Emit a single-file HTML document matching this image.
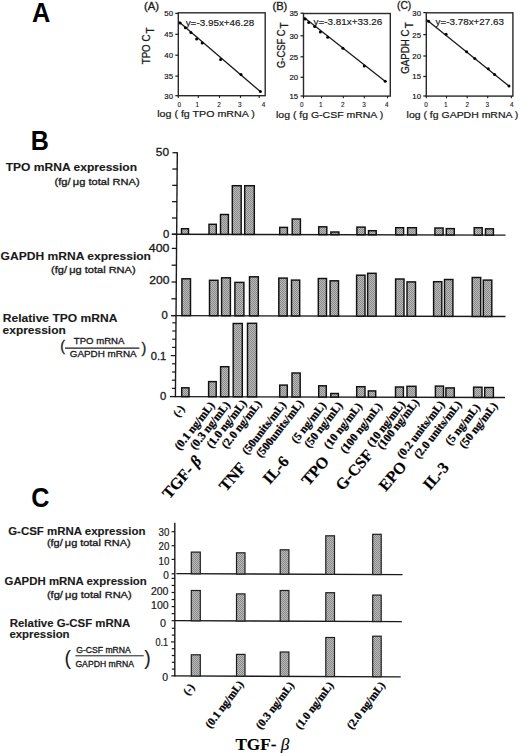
<!DOCTYPE html>
<html><head><meta charset="utf-8"><style>
html,body{margin:0;padding:0;background:#fff;width:520px;height:753px;overflow:hidden}
svg{display:block}
</style></head><body>
<svg width="520" height="753" viewBox="0 0 520 753">
<defs>
<pattern id="chk" width="2" height="2" patternUnits="userSpaceOnUse">
<rect width="2" height="2" fill="#bababa"/><rect width="1" height="1" fill="#8a8a8a"/><rect x="1" y="1" width="1" height="1" fill="#8a8a8a"/>
</pattern>
</defs>
<rect width="520" height="753" fill="#fff"/>
<text x="32" y="22.0" font-family='"Liberation Sans", sans-serif' font-size="27.6" font-weight="bold" text-anchor="start" fill="#000" textLength="18.3" lengthAdjust="spacingAndGlyphs"  stroke="#000" stroke-width="0">A</text>
<rect x="178.3" y="12.8" width="86.89999999999998" height="82.9" fill="none" stroke="#2a2a2a" stroke-width="1.4"/>
<line x1="175.3" y1="13.4" x2="178.3" y2="13.4" stroke="#1a1a1a" stroke-width="1.2"/>
<text x="173.0" y="16.3" font-family='"Liberation Sans", sans-serif' font-size="7.8" font-weight="normal" text-anchor="end" fill="#1a1a1a"  stroke="#1a1a1a" stroke-width="0.2">50</text>
<line x1="175.3" y1="34.3" x2="178.3" y2="34.3" stroke="#1a1a1a" stroke-width="1.2"/>
<text x="173.0" y="37.199999999999996" font-family='"Liberation Sans", sans-serif' font-size="7.8" font-weight="normal" text-anchor="end" fill="#1a1a1a"  stroke="#1a1a1a" stroke-width="0.2">45</text>
<line x1="175.3" y1="55.2" x2="178.3" y2="55.2" stroke="#1a1a1a" stroke-width="1.2"/>
<text x="173.0" y="58.1" font-family='"Liberation Sans", sans-serif' font-size="7.8" font-weight="normal" text-anchor="end" fill="#1a1a1a"  stroke="#1a1a1a" stroke-width="0.2">40</text>
<line x1="175.3" y1="76.1" x2="178.3" y2="76.1" stroke="#1a1a1a" stroke-width="1.2"/>
<text x="173.0" y="79.0" font-family='"Liberation Sans", sans-serif' font-size="7.8" font-weight="normal" text-anchor="end" fill="#1a1a1a"  stroke="#1a1a1a" stroke-width="0.2">35</text>
<line x1="175.3" y1="95.7" x2="178.3" y2="95.7" stroke="#1a1a1a" stroke-width="1.2"/>
<text x="173.0" y="98.60000000000001" font-family='"Liberation Sans", sans-serif' font-size="7.8" font-weight="normal" text-anchor="end" fill="#1a1a1a"  stroke="#1a1a1a" stroke-width="0.2">30</text>
<line x1="178.3" y1="95.7" x2="178.3" y2="97.9" stroke="#1a1a1a" stroke-width="1.1"/>
<line x1="198.3" y1="95.7" x2="198.3" y2="97.9" stroke="#1a1a1a" stroke-width="1.1"/>
<line x1="219.5" y1="95.7" x2="219.5" y2="97.9" stroke="#1a1a1a" stroke-width="1.1"/>
<line x1="240.5" y1="95.7" x2="240.5" y2="97.9" stroke="#1a1a1a" stroke-width="1.1"/>
<line x1="259.2" y1="95.7" x2="259.2" y2="97.9" stroke="#1a1a1a" stroke-width="1.1"/>
<text x="179.2" y="106.7" font-family='"Liberation Sans", sans-serif' font-size="6.4" font-weight="normal" text-anchor="middle" fill="#1a1a1a"  stroke="#1a1a1a" stroke-width="0.12">0</text>
<text x="197.4" y="106.7" font-family='"Liberation Sans", sans-serif' font-size="6.4" font-weight="normal" text-anchor="middle" fill="#1a1a1a"  stroke="#1a1a1a" stroke-width="0.12">1</text>
<text x="219.1" y="106.7" font-family='"Liberation Sans", sans-serif' font-size="6.4" font-weight="normal" text-anchor="middle" fill="#1a1a1a"  stroke="#1a1a1a" stroke-width="0.12">2</text>
<text x="239.9" y="106.7" font-family='"Liberation Sans", sans-serif' font-size="6.4" font-weight="normal" text-anchor="middle" fill="#1a1a1a"  stroke="#1a1a1a" stroke-width="0.12">3</text>
<text x="263.6" y="106.7" font-family='"Liberation Sans", sans-serif' font-size="6.4" font-weight="normal" text-anchor="middle" fill="#1a1a1a"  stroke="#1a1a1a" stroke-width="0.12">4</text>
<text x="144.1" y="10.1" font-family='"Liberation Sans", sans-serif' font-size="10.6" font-weight="normal" text-anchor="start" fill="#1a1a1a" textLength="15" lengthAdjust="spacingAndGlyphs"  stroke="#1a1a1a" stroke-width="0.32">(A)</text>
<text x="185.7" y="26.4" font-family='"Liberation Sans", sans-serif' font-size="9.6" font-weight="normal" text-anchor="start" fill="#1a1a1a" textLength="68.6" lengthAdjust="spacingAndGlyphs"  stroke="#1a1a1a" stroke-width="0.18">y=-3.95x+46.28</text>
<line x1="178.6" y1="21.5" x2="260.6" y2="91.8" stroke="#1a1a1a" stroke-width="1.3"/>
<circle cx="180.2" cy="23" r="1.5" fill="#000"/>
<circle cx="185.4" cy="27.8" r="1.5" fill="#000"/>
<circle cx="190.9" cy="32.5" r="1.5" fill="#000"/>
<circle cx="196.6" cy="39" r="1.5" fill="#000"/>
<circle cx="202.2" cy="42.9" r="1.5" fill="#000"/>
<circle cx="220.6" cy="59.6" r="1.5" fill="#000"/>
<circle cx="241" cy="74.6" r="1.5" fill="#000"/>
<circle cx="260.4" cy="91.6" r="1.5" fill="#000"/>
<text x="157.2" y="117.0" font-family='"Liberation Sans", sans-serif' font-size="9.8" font-weight="normal" text-anchor="start" fill="#1a1a1a" textLength="97.60000000000002" lengthAdjust="spacingAndGlyphs"  stroke="#1a1a1a" stroke-width="0.22">log ( fg TPO mRNA )</text>
<g transform="translate(150.1,64.3) rotate(-90)"><text x="0" y="0" font-family='"Liberation Sans", sans-serif' font-size="10.8" fill="#1a1a1a" stroke="#1a1a1a" stroke-width="0.3" textLength="29.699999999999996" lengthAdjust="spacingAndGlyphs">TPO C</text></g>
<g transform="translate(154.2,33.4) rotate(-90)"><text x="0" y="0" font-family='"Liberation Sans", sans-serif' font-size="10" fill="#1a1a1a" stroke="#1a1a1a" stroke-width="0.3">T</text></g>
<rect x="303.5" y="13.5" width="86.80000000000001" height="82.6" fill="none" stroke="#2a2a2a" stroke-width="1.4"/>
<line x1="300.5" y1="13.2" x2="303.5" y2="13.2" stroke="#1a1a1a" stroke-width="1.2"/>
<text x="298.2" y="16.099999999999998" font-family='"Liberation Sans", sans-serif' font-size="7.8" font-weight="normal" text-anchor="end" fill="#1a1a1a"  stroke="#1a1a1a" stroke-width="0.2">35</text>
<line x1="300.5" y1="35.8" x2="303.5" y2="35.8" stroke="#1a1a1a" stroke-width="1.2"/>
<text x="298.2" y="38.699999999999996" font-family='"Liberation Sans", sans-serif' font-size="7.8" font-weight="normal" text-anchor="end" fill="#1a1a1a"  stroke="#1a1a1a" stroke-width="0.2">30</text>
<line x1="300.5" y1="56.8" x2="303.5" y2="56.8" stroke="#1a1a1a" stroke-width="1.2"/>
<text x="298.2" y="59.699999999999996" font-family='"Liberation Sans", sans-serif' font-size="7.8" font-weight="normal" text-anchor="end" fill="#1a1a1a"  stroke="#1a1a1a" stroke-width="0.2">25</text>
<line x1="300.5" y1="77.3" x2="303.5" y2="77.3" stroke="#1a1a1a" stroke-width="1.2"/>
<text x="298.2" y="80.2" font-family='"Liberation Sans", sans-serif' font-size="7.8" font-weight="normal" text-anchor="end" fill="#1a1a1a"  stroke="#1a1a1a" stroke-width="0.2">20</text>
<line x1="300.5" y1="96" x2="303.5" y2="96" stroke="#1a1a1a" stroke-width="1.2"/>
<text x="298.2" y="98.9" font-family='"Liberation Sans", sans-serif' font-size="7.8" font-weight="normal" text-anchor="end" fill="#1a1a1a"  stroke="#1a1a1a" stroke-width="0.2">15</text>
<line x1="303.5" y1="96.1" x2="303.5" y2="98.3" stroke="#1a1a1a" stroke-width="1.1"/>
<line x1="321.5" y1="96.1" x2="321.5" y2="98.3" stroke="#1a1a1a" stroke-width="1.1"/>
<line x1="343.3" y1="96.1" x2="343.3" y2="98.3" stroke="#1a1a1a" stroke-width="1.1"/>
<line x1="364.3" y1="96.1" x2="364.3" y2="98.3" stroke="#1a1a1a" stroke-width="1.1"/>
<line x1="387.5" y1="96.1" x2="387.5" y2="98.3" stroke="#1a1a1a" stroke-width="1.1"/>
<text x="301.8" y="106.7" font-family='"Liberation Sans", sans-serif' font-size="6.4" font-weight="normal" text-anchor="middle" fill="#1a1a1a"  stroke="#1a1a1a" stroke-width="0.12">0</text>
<text x="320.7" y="106.7" font-family='"Liberation Sans", sans-serif' font-size="6.4" font-weight="normal" text-anchor="middle" fill="#1a1a1a"  stroke="#1a1a1a" stroke-width="0.12">1</text>
<text x="342.9" y="106.7" font-family='"Liberation Sans", sans-serif' font-size="6.4" font-weight="normal" text-anchor="middle" fill="#1a1a1a"  stroke="#1a1a1a" stroke-width="0.12">2</text>
<text x="364.1" y="106.7" font-family='"Liberation Sans", sans-serif' font-size="6.4" font-weight="normal" text-anchor="middle" fill="#1a1a1a"  stroke="#1a1a1a" stroke-width="0.12">3</text>
<text x="386.7" y="106.7" font-family='"Liberation Sans", sans-serif' font-size="6.4" font-weight="normal" text-anchor="middle" fill="#1a1a1a"  stroke="#1a1a1a" stroke-width="0.12">4</text>
<text x="272.5" y="9.9" font-family='"Liberation Sans", sans-serif' font-size="10.6" font-weight="normal" text-anchor="start" fill="#1a1a1a" textLength="14.8" lengthAdjust="spacingAndGlyphs"  stroke="#1a1a1a" stroke-width="0.32">(B)</text>
<text x="313.5" y="25.2" font-family='"Liberation Sans", sans-serif' font-size="9.6" font-weight="normal" text-anchor="start" fill="#1a1a1a" textLength="68.7" lengthAdjust="spacingAndGlyphs"  stroke="#1a1a1a" stroke-width="0.18">y=-3.81x+33.26</text>
<line x1="303.8" y1="17.2" x2="385.4" y2="81.4" stroke="#1a1a1a" stroke-width="1.3"/>
<circle cx="305.2" cy="19" r="1.5" fill="#000"/>
<circle cx="308.7" cy="22.5" r="1.5" fill="#000"/>
<circle cx="314.7" cy="26.6" r="1.5" fill="#000"/>
<circle cx="320.4" cy="32" r="1.5" fill="#000"/>
<circle cx="327.7" cy="37.2" r="1.5" fill="#000"/>
<circle cx="342.9" cy="48.3" r="1.5" fill="#000"/>
<circle cx="364.3" cy="66" r="1.5" fill="#000"/>
<circle cx="385.2" cy="81.3" r="1.5" fill="#000"/>
<text x="276" y="117.6" font-family='"Liberation Sans", sans-serif' font-size="9.8" font-weight="normal" text-anchor="start" fill="#1a1a1a" textLength="107.19999999999999" lengthAdjust="spacingAndGlyphs"  stroke="#1a1a1a" stroke-width="0.22">log ( fg G-CSF mRNA )</text>
<g transform="translate(284.6,67.9) rotate(-90)"><text x="0" y="0" font-family='"Liberation Sans", sans-serif' font-size="10.8" fill="#1a1a1a" stroke="#1a1a1a" stroke-width="0.3" textLength="38.400000000000006" lengthAdjust="spacingAndGlyphs">G-CSF C</text></g>
<g transform="translate(288.0,28.6) rotate(-90)"><text x="0" y="0" font-family='"Liberation Sans", sans-serif' font-size="10" fill="#1a1a1a" stroke="#1a1a1a" stroke-width="0.3">T</text></g>
<rect x="426.3" y="12.8" width="86.59999999999997" height="83.3" fill="none" stroke="#2a2a2a" stroke-width="1.4"/>
<line x1="423.3" y1="12.6" x2="426.3" y2="12.6" stroke="#1a1a1a" stroke-width="1.2"/>
<text x="421.0" y="15.5" font-family='"Liberation Sans", sans-serif' font-size="7.8" font-weight="normal" text-anchor="end" fill="#1a1a1a"  stroke="#1a1a1a" stroke-width="0.2">30</text>
<line x1="423.3" y1="34.6" x2="426.3" y2="34.6" stroke="#1a1a1a" stroke-width="1.2"/>
<text x="421.0" y="37.5" font-family='"Liberation Sans", sans-serif' font-size="7.8" font-weight="normal" text-anchor="end" fill="#1a1a1a"  stroke="#1a1a1a" stroke-width="0.2">25</text>
<line x1="423.3" y1="56" x2="426.3" y2="56" stroke="#1a1a1a" stroke-width="1.2"/>
<text x="421.0" y="58.9" font-family='"Liberation Sans", sans-serif' font-size="7.8" font-weight="normal" text-anchor="end" fill="#1a1a1a"  stroke="#1a1a1a" stroke-width="0.2">20</text>
<line x1="423.3" y1="76.5" x2="426.3" y2="76.5" stroke="#1a1a1a" stroke-width="1.2"/>
<text x="421.0" y="79.4" font-family='"Liberation Sans", sans-serif' font-size="7.8" font-weight="normal" text-anchor="end" fill="#1a1a1a"  stroke="#1a1a1a" stroke-width="0.2">15</text>
<line x1="423.3" y1="96" x2="426.3" y2="96" stroke="#1a1a1a" stroke-width="1.2"/>
<text x="421.0" y="98.9" font-family='"Liberation Sans", sans-serif' font-size="7.8" font-weight="normal" text-anchor="end" fill="#1a1a1a"  stroke="#1a1a1a" stroke-width="0.2">10</text>
<line x1="426.3" y1="96.1" x2="426.3" y2="98.3" stroke="#1a1a1a" stroke-width="1.1"/>
<line x1="446.5" y1="96.1" x2="446.5" y2="98.3" stroke="#1a1a1a" stroke-width="1.1"/>
<line x1="467.2" y1="96.1" x2="467.2" y2="98.3" stroke="#1a1a1a" stroke-width="1.1"/>
<line x1="487.7" y1="96.1" x2="487.7" y2="98.3" stroke="#1a1a1a" stroke-width="1.1"/>
<line x1="511.3" y1="96.1" x2="511.3" y2="98.3" stroke="#1a1a1a" stroke-width="1.1"/>
<text x="426" y="106.7" font-family='"Liberation Sans", sans-serif' font-size="6.4" font-weight="normal" text-anchor="middle" fill="#1a1a1a"  stroke="#1a1a1a" stroke-width="0.12">0</text>
<text x="445.9" y="106.7" font-family='"Liberation Sans", sans-serif' font-size="6.4" font-weight="normal" text-anchor="middle" fill="#1a1a1a"  stroke="#1a1a1a" stroke-width="0.12">1</text>
<text x="467.3" y="106.7" font-family='"Liberation Sans", sans-serif' font-size="6.4" font-weight="normal" text-anchor="middle" fill="#1a1a1a"  stroke="#1a1a1a" stroke-width="0.12">2</text>
<text x="487.3" y="106.7" font-family='"Liberation Sans", sans-serif' font-size="6.4" font-weight="normal" text-anchor="middle" fill="#1a1a1a"  stroke="#1a1a1a" stroke-width="0.12">3</text>
<text x="511.9" y="106.7" font-family='"Liberation Sans", sans-serif' font-size="6.4" font-weight="normal" text-anchor="middle" fill="#1a1a1a"  stroke="#1a1a1a" stroke-width="0.12">4</text>
<text x="397" y="9.3" font-family='"Liberation Sans", sans-serif' font-size="10.6" font-weight="normal" text-anchor="start" fill="#1a1a1a" textLength="14.2" lengthAdjust="spacingAndGlyphs"  stroke="#1a1a1a" stroke-width="0.32">(C)</text>
<text x="435.5" y="24.6" font-family='"Liberation Sans", sans-serif' font-size="9.6" font-weight="normal" text-anchor="start" fill="#1a1a1a" textLength="68.5" lengthAdjust="spacingAndGlyphs"  stroke="#1a1a1a" stroke-width="0.18">y=-3.78x+27.63</text>
<line x1="426.6" y1="19.8" x2="509.2" y2="86.2" stroke="#1a1a1a" stroke-width="1.3"/>
<circle cx="428.6" cy="21.3" r="1.5" fill="#000"/>
<circle cx="446.1" cy="34.3" r="1.5" fill="#000"/>
<circle cx="466.6" cy="51.7" r="1.5" fill="#000"/>
<circle cx="474.8" cy="58.4" r="1.5" fill="#000"/>
<circle cx="488.3" cy="68.7" r="1.5" fill="#000"/>
<circle cx="494.6" cy="74.4" r="1.5" fill="#000"/>
<circle cx="509" cy="86" r="1.5" fill="#000"/>
<text x="406.6" y="117.8" font-family='"Liberation Sans", sans-serif' font-size="9.8" font-weight="normal" text-anchor="start" fill="#1a1a1a" textLength="111.69999999999993" lengthAdjust="spacingAndGlyphs"  stroke="#1a1a1a" stroke-width="0.22">log ( fg GAPDH mRNA )</text>
<g transform="translate(409.1,73.8) rotate(-90)"><text x="0" y="0" font-family='"Liberation Sans", sans-serif' font-size="10.8" fill="#1a1a1a" stroke="#1a1a1a" stroke-width="0.3" textLength="44.3" lengthAdjust="spacingAndGlyphs">GAPDH C</text></g>
<g transform="translate(413.0,28.3) rotate(-90)"><text x="0" y="0" font-family='"Liberation Sans", sans-serif' font-size="10" fill="#1a1a1a" stroke="#1a1a1a" stroke-width="0.3">T</text></g>
<text x="30.7" y="149.7" font-family='"Liberation Sans", sans-serif' font-size="26.9" font-weight="bold" text-anchor="start" fill="#000" textLength="18.1" lengthAdjust="spacingAndGlyphs"  stroke="#000" stroke-width="0">B</text>
<line x1="177.3" y1="152.3" x2="175.4" y2="397.3" stroke="#1a1a1a" stroke-width="1.4"/>
<line x1="172.49689795918368" y1="152.7" x2="177.2968979591837" y2="152.7" stroke="#1a1a1a" stroke-width="1.3"/>
<line x1="172.37033469387754" y1="169.01999999999998" x2="177.17033469387755" y2="169.01999999999998" stroke="#1a1a1a" stroke-width="1.3"/>
<line x1="172.24377142857142" y1="185.33999999999997" x2="177.04377142857143" y2="185.33999999999997" stroke="#1a1a1a" stroke-width="1.3"/>
<line x1="172.1172081632653" y1="201.66" x2="176.91720816326531" y2="201.66" stroke="#1a1a1a" stroke-width="1.3"/>
<line x1="171.99064489795919" y1="217.98" x2="176.7906448979592" y2="217.98" stroke="#1a1a1a" stroke-width="1.3"/>
<line x1="171.86408163265307" y1="234.29999999999998" x2="176.66408163265308" y2="234.29999999999998" stroke="#1a1a1a" stroke-width="1.3"/>
<text x="169" y="155.6" font-family='"Liberation Sans", sans-serif' font-size="11.3" font-weight="normal" text-anchor="end" fill="#1a1a1a" textLength="13.2" lengthAdjust="spacingAndGlyphs"  stroke="#1a1a1a" stroke-width="0.32">50</text>
<text x="169.3" y="237.9" font-family='"Liberation Sans", sans-serif' font-size="11.3" font-weight="normal" text-anchor="end" fill="#1a1a1a"  stroke="#1a1a1a" stroke-width="0.32">0</text>
<line x1="171.86485714285715" y1="234.2" x2="505.5" y2="235.1198" stroke="#1a1a1a" stroke-width="1.4"/>
<rect x="181.5" y="228.7" width="7" height="5.522400000000005" fill="url(#chk)" stroke="#111" stroke-width="1.45"/>
<rect x="209.0" y="224.3" width="7.300000000000011" height="9.999819999999971" fill="url(#chk)" stroke="#111" stroke-width="1.45"/>
<rect x="220.5" y="214.5" width="7.900000000000006" height="19.832859999999982" fill="url(#chk)" stroke="#111" stroke-width="1.45"/>
<rect x="232.3" y="185.7" width="8.899999999999977" height="48.66730000000001" fill="url(#chk)" stroke="#111" stroke-width="1.45"/>
<rect x="244.7" y="185.7" width="9.600000000000023" height="48.703" fill="url(#chk)" stroke="#111" stroke-width="1.45"/>
<rect x="279.7" y="227.4" width="7.699999999999989" height="7.098339999999979" fill="url(#chk)" stroke="#111" stroke-width="1.45"/>
<rect x="292.2" y="219.0" width="8.199999999999989" height="15.534039999999976" fill="url(#chk)" stroke="#111" stroke-width="1.45"/>
<rect x="318.7" y="226.8" width="8.100000000000023" height="7.808099999999968" fill="url(#chk)" stroke="#111" stroke-width="1.45"/>
<rect x="330.9" y="232.0" width="8.0" height="2.642119999999977" fill="url(#chk)" stroke="#111" stroke-width="1.45"/>
<rect x="356.9" y="227.1" width="8.200000000000045" height="7.615199999999987" fill="url(#chk)" stroke="#111" stroke-width="1.45"/>
<rect x="368.5" y="230.7" width="7.699999999999989" height="4.046979999999991" fill="url(#chk)" stroke="#111" stroke-width="1.45"/>
<rect x="395.7" y="227.7" width="7.900000000000034" height="7.12342000000001" fill="url(#chk)" stroke="#111" stroke-width="1.45"/>
<rect x="407.6" y="227.7" width="8.799999999999955" height="7.157999999999987" fill="url(#chk)" stroke="#111" stroke-width="1.45"/>
<rect x="434.9" y="228.0" width="8.200000000000045" height="6.933599999999984" fill="url(#chk)" stroke="#111" stroke-width="1.45"/>
<rect x="446.3" y="228.6" width="8.0" height="6.36524" fill="url(#chk)" stroke="#111" stroke-width="1.45"/>
<rect x="474.2" y="227.7" width="8.0" height="7.34335999999999" fill="url(#chk)" stroke="#111" stroke-width="1.45"/>
<rect x="485.5" y="228.8" width="7.899999999999977" height="6.27485999999999" fill="url(#chk)" stroke="#111" stroke-width="1.45"/>
<line x1="171.2335918367347" y1="315.6" x2="176.0335918367347" y2="315.6" stroke="#1a1a1a" stroke-width="1.3"/>
<line x1="171.3638775510204" y1="298.8" x2="176.16387755102042" y2="298.8" stroke="#1a1a1a" stroke-width="1.3"/>
<line x1="171.49416326530613" y1="282.0" x2="176.29416326530614" y2="282.0" stroke="#1a1a1a" stroke-width="1.3"/>
<line x1="171.62444897959185" y1="265.20000000000005" x2="176.42444897959186" y2="265.20000000000005" stroke="#1a1a1a" stroke-width="1.3"/>
<line x1="171.75473469387754" y1="248.40000000000003" x2="176.55473469387755" y2="248.40000000000003" stroke="#1a1a1a" stroke-width="1.3"/>
<text x="169.4" y="251.6" font-family='"Liberation Sans", sans-serif' font-size="11.3" font-weight="normal" text-anchor="end" fill="#1a1a1a" textLength="20.6" lengthAdjust="spacingAndGlyphs"  stroke="#1a1a1a" stroke-width="0.32">400</text>
<text x="169.4" y="284.4" font-family='"Liberation Sans", sans-serif' font-size="11.3" font-weight="normal" text-anchor="end" fill="#1a1a1a" textLength="20.2" lengthAdjust="spacingAndGlyphs"  stroke="#1a1a1a" stroke-width="0.32">200</text>
<text x="167.8" y="318.6" font-family='"Liberation Sans", sans-serif' font-size="11.3" font-weight="normal" text-anchor="end" fill="#1a1a1a"  stroke="#1a1a1a" stroke-width="0.32">0</text>
<line x1="171.2335918367347" y1="315.6" x2="505.5" y2="316.51980000000003" stroke="#1a1a1a" stroke-width="1.4"/>
<rect x="181.9" y="278.8" width="8.599999999999994" height="36.82576" fill="url(#chk)" stroke="#111" stroke-width="1.45"/>
<rect x="209.5" y="280.3" width="8.5" height="35.40289999999999" fill="url(#chk)" stroke="#111" stroke-width="1.45"/>
<rect x="221.6" y="277.8" width="8.800000000000011" height="37.93720000000002" fill="url(#chk)" stroke="#111" stroke-width="1.45"/>
<rect x="234.9" y="282.4" width="9.0" height="33.374720000000025" fill="url(#chk)" stroke="#111" stroke-width="1.45"/>
<rect x="249.5" y="276.8" width="8.800000000000011" height="39.01532000000003" fill="url(#chk)" stroke="#111" stroke-width="1.45"/>
<rect x="278.8" y="278.1" width="8.399999999999977" height="37.79680000000002" fill="url(#chk)" stroke="#111" stroke-width="1.45"/>
<rect x="291.5" y="280.1" width="8.199999999999989" height="35.83208000000002" fill="url(#chk)" stroke="#111" stroke-width="1.45"/>
<rect x="318.3" y="278.5" width="8.199999999999989" height="37.50712000000004" fill="url(#chk)" stroke="#111" stroke-width="1.45"/>
<rect x="330.1" y="280.8" width="8.399999999999977" height="35.240440000000035" fill="url(#chk)" stroke="#111" stroke-width="1.45"/>
<rect x="356.6" y="275.2" width="8.399999999999977" height="40.91464000000002" fill="url(#chk)" stroke="#111" stroke-width="1.45"/>
<rect x="367.6" y="273.3" width="8.5" height="42.845579999999984" fill="url(#chk)" stroke="#111" stroke-width="1.45"/>
<rect x="395.6" y="279.0" width="8.399999999999977" height="37.223839999999996" fill="url(#chk)" stroke="#111" stroke-width="1.45"/>
<rect x="407.0" y="281.9" width="8.5" height="34.35590000000002" fill="url(#chk)" stroke="#111" stroke-width="1.45"/>
<rect x="433.6" y="281.7" width="8.199999999999989" height="34.62996000000004" fill="url(#chk)" stroke="#111" stroke-width="1.45"/>
<rect x="444.5" y="279.5" width="8.399999999999977" height="36.86076000000003" fill="url(#chk)" stroke="#111" stroke-width="1.45"/>
<rect x="472.2" y="277.5" width="8.5" height="38.93846000000002" fill="url(#chk)" stroke="#111" stroke-width="1.45"/>
<rect x="483.3" y="280.1" width="8.5" height="36.36953999999997" fill="url(#chk)" stroke="#111" stroke-width="1.45"/>
<line x1="171.8690204081633" y1="388.40000000000003" x2="175.4690204081633" y2="388.40000000000003" stroke="#1a1a1a" stroke-width="1.2"/>
<line x1="171.93261224489797" y1="380.20000000000005" x2="175.53261224489796" y2="380.20000000000005" stroke="#1a1a1a" stroke-width="1.2"/>
<line x1="171.99620408163267" y1="372.0" x2="175.59620408163266" y2="372.0" stroke="#1a1a1a" stroke-width="1.2"/>
<line x1="172.05979591836737" y1="363.8" x2="175.65979591836737" y2="363.8" stroke="#1a1a1a" stroke-width="1.2"/>
<line x1="170.72338775510204" y1="355.6" x2="175.72338775510204" y2="355.6" stroke="#1a1a1a" stroke-width="1.2"/>
<line x1="172.18697959183675" y1="347.40000000000003" x2="175.78697959183674" y2="347.40000000000003" stroke="#1a1a1a" stroke-width="1.2"/>
<line x1="172.25057142857145" y1="339.20000000000005" x2="175.85057142857144" y2="339.20000000000005" stroke="#1a1a1a" stroke-width="1.2"/>
<line x1="172.31416326530615" y1="331.0" x2="175.91416326530614" y2="331.0" stroke="#1a1a1a" stroke-width="1.2"/>
<line x1="172.37775510204082" y1="322.8" x2="175.97775510204082" y2="322.8" stroke="#1a1a1a" stroke-width="1.2"/>
<text x="166.3" y="359.9" font-family='"Liberation Sans", sans-serif' font-size="11" font-weight="normal" text-anchor="end" fill="#1a1a1a" textLength="15.5" lengthAdjust="spacingAndGlyphs"  stroke="#1a1a1a" stroke-width="0.32">0.1</text>
<text x="166.2" y="400.4" font-family='"Liberation Sans", sans-serif' font-size="11.3" font-weight="normal" text-anchor="end" fill="#1a1a1a"  stroke="#1a1a1a" stroke-width="0.32">0</text>
<line x1="169.9054285714286" y1="396.6" x2="505" y2="397.51840000000004" stroke="#1a1a1a" stroke-width="1.4"/>
<rect x="181.7" y="387.8" width="7.300000000000011" height="8.823379999999986" fill="url(#chk)" stroke="#111" stroke-width="1.45"/>
<rect x="208.6" y="381.6" width="7.599999999999994" height="15.099120000000028" fill="url(#chk)" stroke="#111" stroke-width="1.45"/>
<rect x="220.6" y="366.7" width="8.200000000000017" height="30.033560000000023" fill="url(#chk)" stroke="#111" stroke-width="1.45"/>
<rect x="233.2" y="323.5" width="9.100000000000023" height="73.27010000000001" fill="url(#chk)" stroke="#111" stroke-width="1.45"/>
<rect x="247.5" y="323.3" width="9.100000000000023" height="73.51014000000004" fill="url(#chk)" stroke="#111" stroke-width="1.45"/>
<rect x="279.7" y="385.1" width="7.600000000000023" height="11.798200000000008" fill="url(#chk)" stroke="#111" stroke-width="1.45"/>
<rect x="292.0" y="373.0" width="8.199999999999989" height="23.93348000000003" fill="url(#chk)" stroke="#111" stroke-width="1.45"/>
<rect x="318.7" y="385.8" width="7.600000000000023" height="11.207400000000007" fill="url(#chk)" stroke="#111" stroke-width="1.45"/>
<rect x="330.8" y="393.5" width="7.599999999999966" height="3.541280000000029" fill="url(#chk)" stroke="#111" stroke-width="1.45"/>
<rect x="356.7" y="386.7" width="8.300000000000011" height="10.414780000000007" fill="url(#chk)" stroke="#111" stroke-width="1.45"/>
<rect x="368.3" y="390.9" width="7.399999999999977" height="6.246000000000038" fill="url(#chk)" stroke="#111" stroke-width="1.45"/>
<rect x="395.5" y="387.0" width="7.899999999999977" height="10.222860000000026" fill="url(#chk)" stroke="#111" stroke-width="1.45"/>
<rect x="407.0" y="386.3" width="9.0" height="10.956600000000037" fill="url(#chk)" stroke="#111" stroke-width="1.45"/>
<rect x="435.4" y="386.1" width="8.100000000000023" height="11.234860000000026" fill="url(#chk)" stroke="#111" stroke-width="1.45"/>
<rect x="445.9" y="387.9" width="8.400000000000034" height="9.464680000000044" fill="url(#chk)" stroke="#111" stroke-width="1.45"/>
<rect x="473.6" y="387.2" width="8.399999999999977" height="10.242240000000038" fill="url(#chk)" stroke="#111" stroke-width="1.45"/>
<rect x="484.7" y="387.5" width="8.699999999999989" height="9.97374000000002" fill="url(#chk)" stroke="#111" stroke-width="1.45"/>
<text x="5.7" y="171.1" font-family='"Liberation Sans", sans-serif' font-size="11.5" font-weight="bold" text-anchor="start" fill="#1a1a1a" textLength="131.4" lengthAdjust="spacingAndGlyphs"  stroke="#1a1a1a" stroke-width="0.12">TPO mRNA expression</text>
<text x="54.6" y="185.2" font-family='"Liberation Sans", sans-serif' font-size="9.4" font-weight="normal" text-anchor="start" fill="#1a1a1a" textLength="85" lengthAdjust="spacingAndGlyphs"  stroke="#1a1a1a" stroke-width="0.32">(fg/ μg total RNA)</text>
<text x="0.6" y="259.9" font-family='"Liberation Sans", sans-serif' font-size="11.8" font-weight="bold" text-anchor="start" fill="#1a1a1a" textLength="150.4" lengthAdjust="spacingAndGlyphs"  stroke="#1a1a1a" stroke-width="0.12">GAPDH mRNA expression</text>
<text x="51.1" y="272.9" font-family='"Liberation Sans", sans-serif' font-size="9.4" font-weight="normal" text-anchor="start" fill="#1a1a1a" textLength="84.5" lengthAdjust="spacingAndGlyphs"  stroke="#1a1a1a" stroke-width="0.32">(fg/ μg total RNA)</text>
<text x="2.8" y="322.4" font-family='"Liberation Sans", sans-serif' font-size="11.4" font-weight="bold" text-anchor="start" fill="#1a1a1a" textLength="114.6" lengthAdjust="spacingAndGlyphs"  stroke="#1a1a1a" stroke-width="0.12">Relative TPO mRNA</text>
<text x="2.6" y="334.3" font-family='"Liberation Sans", sans-serif' font-size="11.4" font-weight="bold" text-anchor="start" fill="#1a1a1a" textLength="63.2" lengthAdjust="spacingAndGlyphs"  stroke="#1a1a1a" stroke-width="0.12">expression</text>
<text x="73.8" y="343.8" font-family='"Liberation Sans", sans-serif' font-size="9.8" font-weight="normal" text-anchor="start" fill="#1a1a1a" textLength="50.6" lengthAdjust="spacingAndGlyphs"  stroke="#1a1a1a" stroke-width="0.32">TPO mRNA</text>
<line x1="65" y1="348.1" x2="139.4" y2="348.1" stroke="#1a1a1a" stroke-width="1.1"/>
<text x="69.8" y="357.3" font-family='"Liberation Sans", sans-serif' font-size="9.8" font-weight="normal" text-anchor="start" fill="#1a1a1a" textLength="66.8" lengthAdjust="spacingAndGlyphs"  stroke="#1a1a1a" stroke-width="0.32">GAPDH mRNA</text>
<text x="60.3" y="351.3" font-family='"Liberation Sans", sans-serif' font-size="14.3" font-weight="normal" text-anchor="start" fill="#1a1a1a"  stroke="#1a1a1a" stroke-width="0.32">(</text>
<text x="141.4" y="352.6" font-family='"Liberation Sans", sans-serif' font-size="14.3" font-weight="normal" text-anchor="start" fill="#1a1a1a"  stroke="#1a1a1a" stroke-width="0.32">)</text>
<text transform="translate(181.58,413.26) rotate(-52)" font-family='"Liberation Serif", serif' font-size="11.2" font-weight="bold" text-anchor="middle" fill="#000" stroke="#000" stroke-width="0.28">(-)</text>
<text transform="translate(215.15,405.37) rotate(-52)" font-family='"Liberation Serif", serif' font-size="11.5" font-weight="bold" text-anchor="end" fill="#000" stroke="#000" stroke-width="0.28">(0.1 ng/mL)</text>
<text transform="translate(230.65,404.87) rotate(-52)" font-family='"Liberation Serif", serif' font-size="11.5" font-weight="bold" text-anchor="end" fill="#000" stroke="#000" stroke-width="0.28">(0.3 ng/mL)</text>
<text transform="translate(247.15,403.37) rotate(-52)" font-family='"Liberation Serif", serif' font-size="11.5" font-weight="bold" text-anchor="end" fill="#000" stroke="#000" stroke-width="0.28">(1.0 ng/mL)</text>
<text transform="translate(262.15,403.87) rotate(-52)" font-family='"Liberation Serif", serif' font-size="11.5" font-weight="bold" text-anchor="end" fill="#000" stroke="#000" stroke-width="0.28">(2.0 ng/mL)</text>
<text transform="translate(286.65,404.87) rotate(-52)" font-family='"Liberation Serif", serif' font-size="11.5" font-weight="bold" text-anchor="end" fill="#000" stroke="#000" stroke-width="0.28">(50units/mL)</text>
<text transform="translate(304.15,403.37) rotate(-52)" font-family='"Liberation Serif", serif' font-size="11.5" font-weight="bold" text-anchor="end" fill="#000" stroke="#000" stroke-width="0.28">(500units/mL)</text>
<text transform="translate(326.65,405.37) rotate(-52)" font-family='"Liberation Serif", serif' font-size="11.5" font-weight="bold" text-anchor="end" fill="#000" stroke="#000" stroke-width="0.28">(5 ng/mL)</text>
<text transform="translate(343.15,405.37) rotate(-52)" font-family='"Liberation Serif", serif' font-size="11.5" font-weight="bold" text-anchor="end" fill="#000" stroke="#000" stroke-width="0.28">(50 ng/mL)</text>
<text transform="translate(362.65,406.37) rotate(-52)" font-family='"Liberation Serif", serif' font-size="11.5" font-weight="bold" text-anchor="end" fill="#000" stroke="#000" stroke-width="0.28">(10 ng/mL)</text>
<text transform="translate(382.65,406.37) rotate(-52)" font-family='"Liberation Serif", serif' font-size="11.5" font-weight="bold" text-anchor="end" fill="#000" stroke="#000" stroke-width="0.28">(100 ng/mL)</text>
<text transform="translate(405.65,404.37) rotate(-52)" font-family='"Liberation Serif", serif' font-size="11.5" font-weight="bold" text-anchor="end" fill="#000" stroke="#000" stroke-width="0.28">(10 ng/mL)</text>
<text transform="translate(419.65,402.37) rotate(-52)" font-family='"Liberation Serif", serif' font-size="11.5" font-weight="bold" text-anchor="end" fill="#000" stroke="#000" stroke-width="0.28">(100 ng/mL)</text>
<text transform="translate(445.15,404.37) rotate(-52)" font-family='"Liberation Serif", serif' font-size="11.5" font-weight="bold" text-anchor="end" fill="#000" stroke="#000" stroke-width="0.28">(0.2 units/mL)</text>
<text transform="translate(462.15,404.37) rotate(-52)" font-family='"Liberation Serif", serif' font-size="11.5" font-weight="bold" text-anchor="end" fill="#000" stroke="#000" stroke-width="0.28">(2.0 units/mL)</text>
<text transform="translate(480.65,407.37) rotate(-52)" font-family='"Liberation Serif", serif' font-size="11.5" font-weight="bold" text-anchor="end" fill="#000" stroke="#000" stroke-width="0.28">(5 ng/mL)</text>
<text transform="translate(498.15,405.87) rotate(-52)" font-family='"Liberation Serif", serif' font-size="11.5" font-weight="bold" text-anchor="end" fill="#000" stroke="#000" stroke-width="0.28">(50 ng/mL)</text>
<text transform="translate(181.50,477.00) rotate(-49)" font-family='"Liberation Serif", serif' font-size="16" font-weight="bold" text-anchor="middle" dy="0.35em" fill="#000" stroke="#000" stroke-width="0.2">TGF- <tspan font-style="italic">β</tspan></text>
<text transform="translate(232.30,476.60) rotate(-49)" font-family='"Liberation Serif", serif' font-size="16" font-weight="bold" text-anchor="middle" dy="0.35em" fill="#000" stroke="#000" stroke-width="0.2">TNF</text>
<text transform="translate(275.50,469.80) rotate(-49)" font-family='"Liberation Serif", serif' font-size="16" font-weight="bold" text-anchor="middle" dy="0.35em" fill="#000" stroke="#000" stroke-width="0.2">IL-6</text>
<text transform="translate(315.00,470.50) rotate(-49)" font-family='"Liberation Serif", serif' font-size="16" font-weight="bold" text-anchor="middle" dy="0.35em" fill="#000" stroke="#000" stroke-width="0.2">TPO</text>
<text transform="translate(354.00,469.80) rotate(-49)" font-family='"Liberation Serif", serif' font-size="16" font-weight="bold" text-anchor="middle" dy="0.35em" fill="#000" stroke="#000" stroke-width="0.2">G-CSF</text>
<text transform="translate(392.30,475.80) rotate(-49)" font-family='"Liberation Serif", serif' font-size="16" font-weight="bold" text-anchor="middle" dy="0.35em" fill="#000" stroke="#000" stroke-width="0.2">EPO</text>
<text transform="translate(435.70,475.80) rotate(-49)" font-family='"Liberation Serif", serif' font-size="16" font-weight="bold" text-anchor="middle" dy="0.35em" fill="#000" stroke="#000" stroke-width="0.2">IL-3</text>
<text x="31.3" y="506.8" font-family='"Liberation Sans", sans-serif' font-size="28.4" font-weight="bold" text-anchor="start" fill="#000" textLength="18.2" lengthAdjust="spacingAndGlyphs"  stroke="#000" stroke-width="0">C</text>
<line x1="174.8" y1="522.7" x2="174.8" y2="676.5" stroke="#1a1a1a" stroke-width="1.4"/>
<line x1="171.60000000000002" y1="573.8" x2="174.8" y2="573.8" stroke="#1a1a1a" stroke-width="1.2"/>
<line x1="171.60000000000002" y1="559.4" x2="174.8" y2="559.4" stroke="#1a1a1a" stroke-width="1.2"/>
<line x1="171.60000000000002" y1="545.7" x2="174.8" y2="545.7" stroke="#1a1a1a" stroke-width="1.2"/>
<line x1="171.60000000000002" y1="531.7" x2="174.8" y2="531.7" stroke="#1a1a1a" stroke-width="1.2"/>
<text x="168.9" y="578.9" font-family='"Liberation Sans", sans-serif' font-size="10" font-weight="normal" text-anchor="end" fill="#1a1a1a"  stroke="#1a1a1a" stroke-width="0.2">0</text>
<text x="169.4" y="564.7" font-family='"Liberation Sans", sans-serif' font-size="10" font-weight="normal" text-anchor="end" fill="#1a1a1a" textLength="10.8" lengthAdjust="spacingAndGlyphs"  stroke="#1a1a1a" stroke-width="0.2">10</text>
<text x="169.4" y="550.3" font-family='"Liberation Sans", sans-serif' font-size="10" font-weight="normal" text-anchor="end" fill="#1a1a1a" textLength="10.8" lengthAdjust="spacingAndGlyphs"  stroke="#1a1a1a" stroke-width="0.2">20</text>
<text x="169.4" y="535.8" font-family='"Liberation Sans", sans-serif' font-size="10" font-weight="normal" text-anchor="end" fill="#1a1a1a" textLength="10.8" lengthAdjust="spacingAndGlyphs"  stroke="#1a1a1a" stroke-width="0.2">30</text>
<line x1="176.4" y1="573.7" x2="402.5" y2="574.61" stroke="#1a1a1a" stroke-width="1.3"/>
<line x1="171.60000000000002" y1="613.6500000000001" x2="174.8" y2="613.6500000000001" stroke="#1a1a1a" stroke-width="1.2"/>
<line x1="171.60000000000002" y1="606.6" x2="174.8" y2="606.6" stroke="#1a1a1a" stroke-width="1.2"/>
<line x1="171.60000000000002" y1="599.5500000000001" x2="174.8" y2="599.5500000000001" stroke="#1a1a1a" stroke-width="1.2"/>
<line x1="171.60000000000002" y1="592.5" x2="174.8" y2="592.5" stroke="#1a1a1a" stroke-width="1.2"/>
<line x1="171.60000000000002" y1="585.45" x2="174.8" y2="585.45" stroke="#1a1a1a" stroke-width="1.2"/>
<line x1="171.60000000000002" y1="578.4000000000001" x2="174.8" y2="578.4000000000001" stroke="#1a1a1a" stroke-width="1.2"/>
<line x1="171.60000000000002" y1="620.7" x2="174.8" y2="620.7" stroke="#1a1a1a" stroke-width="1.2"/>
<text x="168.5" y="595.2" font-family='"Liberation Sans", sans-serif' font-size="10" font-weight="normal" text-anchor="end" fill="#1a1a1a" textLength="17.6" lengthAdjust="spacingAndGlyphs"  stroke="#1a1a1a" stroke-width="0.2">200</text>
<text x="168.5" y="609.4" font-family='"Liberation Sans", sans-serif' font-size="10" font-weight="normal" text-anchor="end" fill="#1a1a1a" textLength="17.4" lengthAdjust="spacingAndGlyphs"  stroke="#1a1a1a" stroke-width="0.2">100</text>
<text x="165.9" y="626.5" font-family='"Liberation Sans", sans-serif' font-size="10.8" font-weight="normal" text-anchor="end" fill="#1a1a1a"  stroke="#1a1a1a" stroke-width="0.2">0</text>
<line x1="174.8" y1="620.7" x2="401.8" y2="621.6072" stroke="#1a1a1a" stroke-width="1.3"/>
<line x1="171.8" y1="669.1" x2="174.8" y2="669.1" stroke="#1a1a1a" stroke-width="1.2"/>
<line x1="171.8" y1="662.3" x2="174.8" y2="662.3" stroke="#1a1a1a" stroke-width="1.2"/>
<line x1="171.8" y1="655.5" x2="174.8" y2="655.5" stroke="#1a1a1a" stroke-width="1.2"/>
<line x1="171.8" y1="648.6999999999999" x2="174.8" y2="648.6999999999999" stroke="#1a1a1a" stroke-width="1.2"/>
<line x1="171.0" y1="641.9" x2="174.8" y2="641.9" stroke="#1a1a1a" stroke-width="1.2"/>
<line x1="171.8" y1="635.1" x2="174.8" y2="635.1" stroke="#1a1a1a" stroke-width="1.2"/>
<line x1="171.8" y1="628.3" x2="174.8" y2="628.3" stroke="#1a1a1a" stroke-width="1.2"/>
<line x1="171.3" y1="675.9" x2="400.7" y2="676.8027999999999" stroke="#1a1a1a" stroke-width="1.3"/>
<text x="168.2" y="645.6" font-family='"Liberation Sans", sans-serif' font-size="10.5" font-weight="normal" text-anchor="end" fill="#1a1a1a" textLength="12.8" lengthAdjust="spacingAndGlyphs"  stroke="#1a1a1a" stroke-width="0.2">0.1</text>
<text x="168" y="681.1" font-family='"Liberation Sans", sans-serif' font-size="10.5" font-weight="normal" text-anchor="end" fill="#1a1a1a"  stroke="#1a1a1a" stroke-width="0.2">0</text>
<rect x="191.3" y="552.1" width="9.0" height="21.683200000000056" fill="url(#chk)" stroke="#1e1e1e" stroke-width="1.2"/>
<rect x="236.5" y="552.8" width="8.5" height="21.163000000000125" fill="url(#chk)" stroke="#1e1e1e" stroke-width="1.2"/>
<rect x="280.2" y="549.8" width="8.699999999999989" height="24.338200000000143" fill="url(#chk)" stroke="#1e1e1e" stroke-width="1.2"/>
<rect x="325.8" y="535.8" width="8.699999999999989" height="38.52060000000006" fill="url(#chk)" stroke="#1e1e1e" stroke-width="1.2"/>
<rect x="372.7" y="534.3" width="8.5" height="40.207800000000134" fill="url(#chk)" stroke="#1e1e1e" stroke-width="1.2"/>
<rect x="191.3" y="590.5" width="9.0" height="30.28320000000008" fill="url(#chk)" stroke="#1e1e1e" stroke-width="1.2"/>
<rect x="236.5" y="593.9" width="8.5" height="27.063000000000102" fill="url(#chk)" stroke="#1e1e1e" stroke-width="1.2"/>
<rect x="280.2" y="590.5" width="8.699999999999989" height="30.638200000000097" fill="url(#chk)" stroke="#1e1e1e" stroke-width="1.2"/>
<rect x="325.8" y="592.7" width="8.699999999999989" height="28.620599999999968" fill="url(#chk)" stroke="#1e1e1e" stroke-width="1.2"/>
<rect x="372.7" y="595.1" width="8.5" height="26.407800000000066" fill="url(#chk)" stroke="#1e1e1e" stroke-width="1.2"/>
<rect x="191.3" y="654.8" width="9.0" height="21.183200000000056" fill="url(#chk)" stroke="#1e1e1e" stroke-width="1.2"/>
<rect x="236.5" y="654.4" width="8.5" height="21.763000000000034" fill="url(#chk)" stroke="#1e1e1e" stroke-width="1.2"/>
<rect x="280.2" y="652.0" width="8.699999999999989" height="24.33820000000003" fill="url(#chk)" stroke="#1e1e1e" stroke-width="1.2"/>
<rect x="325.8" y="637.5" width="8.699999999999989" height="39.020599999999945" fill="url(#chk)" stroke="#1e1e1e" stroke-width="1.2"/>
<rect x="372.7" y="636.2" width="8.5" height="40.507799999999975" fill="url(#chk)" stroke="#1e1e1e" stroke-width="1.2"/>
<text x="8.2" y="534.8" font-family='"Liberation Sans", sans-serif' font-size="10.9" font-weight="bold" text-anchor="start" fill="#1a1a1a" textLength="137.2" lengthAdjust="spacingAndGlyphs"  stroke="#1a1a1a" stroke-width="0.12">G-CSF mRNA expression</text>
<text x="46.9" y="546.3" font-family='"Liberation Sans", sans-serif' font-size="9" font-weight="normal" text-anchor="start" fill="#1a1a1a" textLength="83.7" lengthAdjust="spacingAndGlyphs"  stroke="#1a1a1a" stroke-width="0.32">(fg/ μg total RNA)</text>
<text x="4.5" y="584.5" font-family='"Liberation Sans", sans-serif' font-size="10.6" font-weight="bold" text-anchor="start" fill="#1a1a1a" textLength="142.3" lengthAdjust="spacingAndGlyphs"  stroke="#1a1a1a" stroke-width="0.12">GAPDH mRNA expression</text>
<text x="46.9" y="598.4" font-family='"Liberation Sans", sans-serif' font-size="9" font-weight="normal" text-anchor="start" fill="#1a1a1a" textLength="84.8" lengthAdjust="spacingAndGlyphs"  stroke="#1a1a1a" stroke-width="0.32">(fg/ μg total RNA)</text>
<text x="9.8" y="627.0" font-family='"Liberation Sans", sans-serif' font-size="10.4" font-weight="bold" text-anchor="start" fill="#1a1a1a" textLength="120.4" lengthAdjust="spacingAndGlyphs"  stroke="#1a1a1a" stroke-width="0.12">Relative G-CSF mRNA</text>
<text x="9.4" y="638.2" font-family='"Liberation Sans", sans-serif' font-size="10.4" font-weight="bold" text-anchor="start" fill="#1a1a1a" textLength="60.2" lengthAdjust="spacingAndGlyphs"  stroke="#1a1a1a" stroke-width="0.12">expression</text>
<text x="76.3" y="652.5" font-family='"Liberation Sans", sans-serif' font-size="8.4" font-weight="normal" text-anchor="start" fill="#1a1a1a" textLength="54.5" lengthAdjust="spacingAndGlyphs"  stroke="#1a1a1a" stroke-width="0.32">G-CSF mRNA</text>
<line x1="75.4" y1="655.8" x2="143.7" y2="655.8" stroke="#1a1a1a" stroke-width="1.0"/>
<text x="75.4" y="666.5" font-family='"Liberation Sans", sans-serif' font-size="8.4" font-weight="normal" text-anchor="start" fill="#1a1a1a" textLength="58.6" lengthAdjust="spacingAndGlyphs"  stroke="#1a1a1a" stroke-width="0.32">GAPDH mRNA</text>
<text x="64.6" y="665" font-family='"Liberation Sans", sans-serif' font-size="19.5" font-weight="normal" text-anchor="start" fill="#1a1a1a"  stroke="#1a1a1a" stroke-width="0.05">(</text>
<text x="144.2" y="665" font-family='"Liberation Sans", sans-serif' font-size="19.5" font-weight="normal" text-anchor="start" fill="#1a1a1a"  stroke="#1a1a1a" stroke-width="0.05">)</text>
<text transform="translate(191.58,691.66) rotate(-52)" font-family='"Liberation Serif", serif' font-size="11.2" font-weight="bold" text-anchor="middle" fill="#000" stroke="#000" stroke-width="0.28">(-)</text>
<text transform="translate(244.06,684.30) rotate(-53)" font-family='"Liberation Serif", serif' font-size="11.2" font-weight="bold" text-anchor="end" fill="#000" stroke="#000" stroke-width="0.28">(0.1 ng/mL)</text>
<text transform="translate(294.56,685.30) rotate(-53)" font-family='"Liberation Serif", serif' font-size="11.2" font-weight="bold" text-anchor="end" fill="#000" stroke="#000" stroke-width="0.28">(0.3 ng/mL)</text>
<text transform="translate(334.06,685.30) rotate(-53)" font-family='"Liberation Serif", serif' font-size="11.2" font-weight="bold" text-anchor="end" fill="#000" stroke="#000" stroke-width="0.28">(1.0 ng/mL)</text>
<text transform="translate(385.56,685.30) rotate(-53)" font-family='"Liberation Serif", serif' font-size="11.2" font-weight="bold" text-anchor="end" fill="#000" stroke="#000" stroke-width="0.28">(2.0 ng/mL)</text>
<text x="235.4" y="749.8" font-family='"Liberation Serif", serif' font-size="16" font-weight="bold" text-anchor="start" fill="#000" textLength="53.8" lengthAdjust="spacingAndGlyphs"  stroke="#000" stroke-width="0.12">TGF- <tspan font-style="italic" font-weight="normal">β</tspan></text>
</svg>
</body></html>
